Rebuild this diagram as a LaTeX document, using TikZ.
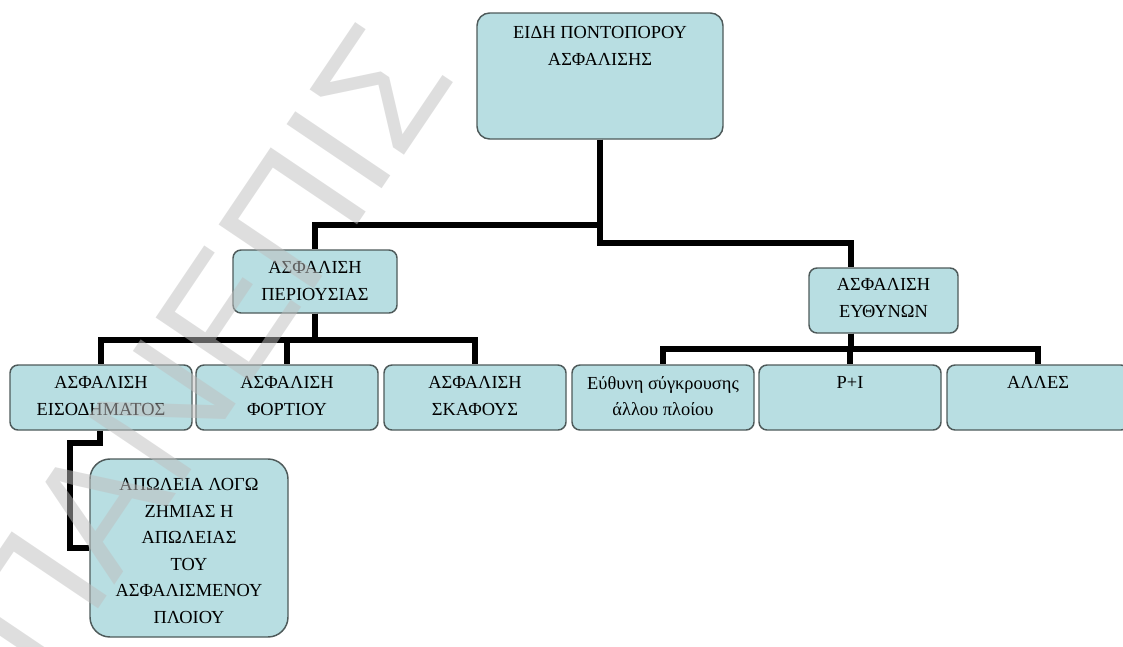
\documentclass[tikz,border=0pt]{standalone}
\usepackage{fontspec}
\setmainfont{Liberation Serif}
\newfontfamily\wmfont{Liberation Sans}
\usetikzlibrary{calc}
\definecolor{boxfill}{RGB}{184,222,226}
\definecolor{boxline}{RGB}{78,90,90}
\definecolor{wmgray}{RGB}{190,190,190}
\newcommand{\bt}[4]{\parbox[c][#2][t]{#1}{\centering\vspace*{#3}#4\par}}
\tikzset{
  bx/.style={draw=boxline, fill=boxfill, line width=1.1pt, inner sep=0pt,
             rounded corners=6pt, font=\fontsize{13.8}{19.9}\selectfont, text=black},
  conn/.style={draw=black, line width=4.4pt, line join=miter},
  wm/.style={rotate=56, anchor=base west, inner sep=0pt, text=wmgray, text opacity=0.5,
             font=\wmfont\fontsize{125}{125}\selectfont}
}
\begin{document}
\begin{tikzpicture}[x=0.75pt, y=-0.75pt]
\useasboundingbox (0,0) rectangle (1123,646);
\clip (0,0) rectangle (1123,646);
% boxes
\node[bx, rounded corners=9.5pt] (top) at (600,76) {\bt{184.5pt}{94.5pt}{10pt}{ΕΙΔΗ ΠΟΝΤΟΠΟΡΟΥ\\ΑΣΦΑΛΙΣΗΣ}};
\node[bx] (periousias) at (315,281.5) {\bt{123pt}{47.25pt}{8.5pt}{ΑΣΦΑΛΙΣΗ\\ΠΕΡΙΟΥΣΙΑΣ}};
\node[bx] (efthynon) at (883.5,300.5) {\bt{111.75pt}{48.75pt}{7.75pt}{ΑΣΦΑΛΙΣΗ\\ΕΥΘΥΝΩΝ}};
\node[bx] (eisod) at (101,397.5) {\bt{136.5pt}{48.75pt}{8.5pt}{ΑΣΦΑΛΙΣΗ\\ΕΙΣΟΔΗΜΑΤΟΣ}};
\node[bx] (fortiou) at (287,397.5) {\bt{136.5pt}{48.75pt}{8.5pt}{ΑΣΦΑΛΙΣΗ\\ΦΟΡΤΙΟΥ}};
\node[bx] (skafous) at (475,397.5) {\bt{136.5pt}{48.75pt}{8.5pt}{ΑΣΦΑΛΙΣΗ\\ΣΚΑΦΟΥΣ}};
\node[bx] (syg) at (663,397.5) {\bt{136.5pt}{48.75pt}{8.5pt}{Εύθυνη σύγκρουσης\\άλλου πλοίου}};
\node[bx] (pi) at (850,397.5) {\bt{136.5pt}{48.75pt}{8.5pt}{P+I}};
\node[bx] (alles) at (1038,397.5) {\bt{136.5pt}{48.75pt}{8.5pt}{ΑΛΛΕΣ}};
\node[bx, rounded corners=15pt] (apoleia) at (189,548) {\bt{148.5pt}{133.5pt}{14.5pt}{ΑΠΩΛΕΙΑ ΛΟΓΩ\\ΖΗΜΙΑΣ Η\\ΑΠΩΛΕΙΑΣ\\ΤΟΥ\\ΑΣΦΑΛΙΣΜΕΝΟΥ\\ΠΛΟΙΟΥ}};
% connectors
\coordinate (efin) at ([xshift=-24.4pt]efthynon.north);
\coordinate (efout) at ([xshift=-24.4pt]efthynon.south);
\draw[conn] (top.south) -- ++(0,103) -| (efin);
\draw[conn] (top.south) -- ++(0,85) -| (periousias.north);
\draw[conn] (periousias.south) -- ++(0,26) -| (eisod.north);
\draw[conn] (periousias.south) -- ++(0,26) -| (fortiou.north);
\draw[conn] (periousias.south) -- ++(0,26) -| (skafous.north);
\draw[conn] (efout) -- ++(0,15) -| (syg.north);
\draw[conn] (efout) -- ++(0,15) -| (pi.north);
\draw[conn] (efout) -- ++(0,15) -| (alles.north);
\draw[conn] ([xshift=-0.75pt]eisod.south) -- ++(0,12) -- ++(-30,0) |- (apoleia.west);
% watermark
\node[wm] (wmark) at (47,685) {ΠΑΝΕΠΙΣ};
\end{tikzpicture}
\end{document}
